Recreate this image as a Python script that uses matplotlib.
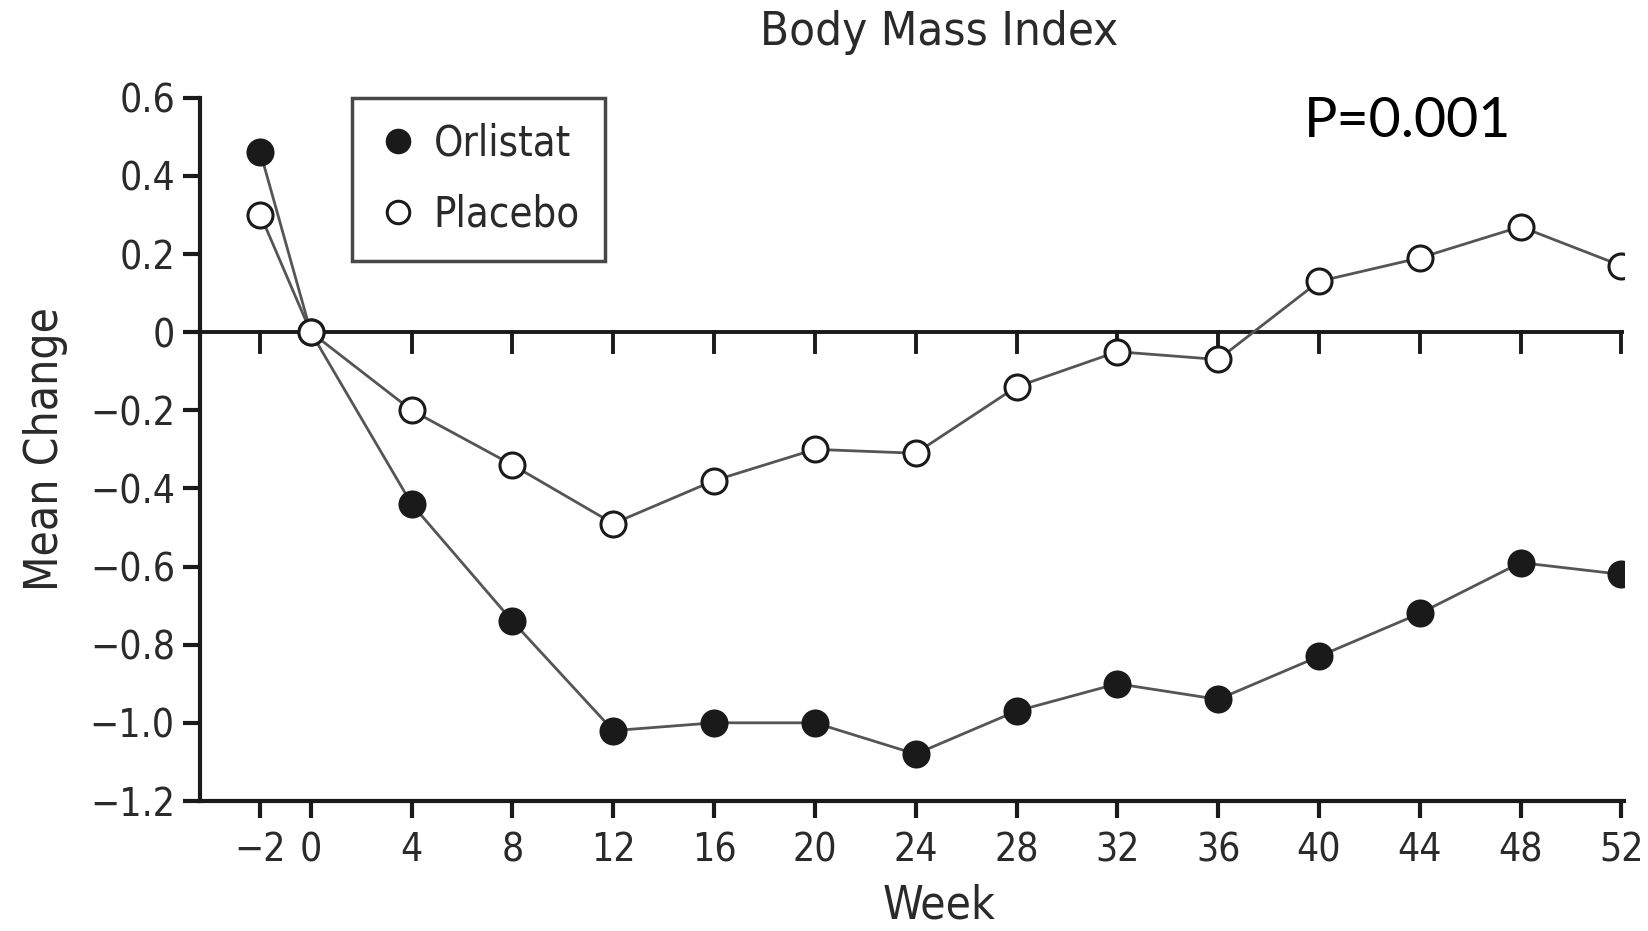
import numpy as np
import matplotlib.pyplot as plt
import matplotlib.transforms as mtransforms

# Data
weeks = [-2, 0, 4, 8, 12, 16, 20, 24, 28, 32, 36, 40, 44, 48, 52]
orlistat = [0.46, 0.0, -0.44, -0.74, -1.02, -1.00, -1.00, -1.08, -0.97, -0.90, -0.94, -0.83, -0.72, -0.59, -0.62]
placebo = [0.30, 0.0, -0.20, -0.34, -0.49, -0.38, -0.30, -0.31, -0.14, -0.05, -0.07, 0.13, 0.19, 0.27, 0.17]

y_ticks = [0.6, 0.4, 0.2, 0, -0.2, -0.4, -0.6, -0.8, -1.0, -1.2]
y_labels = ['0.6', '0.4', '0.2', '0', '\u22120.2', '\u22120.4', '\u22120.6', '\u22120.8', '\u22121.0', '\u22121.2']
x_labels = ['\u22122', '0', '4', '8', '12', '16', '20', '24', '28', '32', '36', '40', '44', '48', '52']

plt.rcParams['font.family'] = ['DejaVu Sans']
plt.rcParams['font.stretch'] = 'condensed'
text_color = '#2a2a2a'

fig = plt.figure(figsize=(16.48, 9.31), dpi=100)
ax = fig.add_axes([0.1213, 0.1397, 0.8641, 0.7553])

line_kw = dict(color='#555555', linewidth=2, markersize=18, markeredgewidth=2.2)
ax.plot(weeks, orlistat, marker='o', markerfacecolor='#1a1a1a', markeredgecolor='#1a1a1a', label='Orlistat', zorder=3, **line_kw)
ax.plot(weeks, placebo, marker='o', markerfacecolor='white', markeredgecolor='#1a1a1a', label='Placebo', zorder=4, **line_kw)

ax.set_xlim(-4.4, 52.1)
ax.set_ylim(-1.2, 0.6)

# zero line with its own downward ticks
ax.axhline(0, color='#1a1a1a', linewidth=2.8, zorder=2)
trans = mtransforms.blended_transform_factory(ax.transData, ax.transAxes)
zero_frac = 1.2 / 1.8
for w in weeks:
    if w == 0:
        continue
    ax.plot([w, w], [zero_frac, zero_frac - 0.028], color='#1a1a1a', linewidth=2.8, transform=trans, zorder=2)

ax.spines['top'].set_visible(False)
ax.spines['right'].set_visible(False)
for s in ['left', 'bottom']:
    ax.spines[s].set_linewidth(3)
    ax.spines[s].set_color('#1a1a1a')

ax.set_yticks(y_ticks)
ax.set_yticklabels(y_labels)
ax.set_xticks(weeks)
ax.set_xticklabels(x_labels)
ax.tick_params(axis='both', direction='out', length=12, width=3, color='#1a1a1a',
               labelsize=28, labelcolor=text_color)
ax.tick_params(axis='x', pad=10)
ax.tick_params(axis='y', pad=6)

ax.set_xlabel('Week', fontsize=33, color=text_color)
ax.xaxis.set_label_coords(0.519, -0.118)
ax.set_ylabel('Mean Change', fontsize=33, color=text_color, labelpad=16)
ax.set_title('Body Mass Index', fontsize=34, color=text_color, pad=38, x=0.519)

leg = ax.legend(loc='upper left', bbox_to_anchor=(0.107, 1.0),
                fontsize=30, frameon=True, fancybox=False, edgecolor='#1a1a1a',
                handlelength=1.0, handletextpad=0.35, borderpad=0.6, labelspacing=0.7,
                markerscale=0.9, borderaxespad=0)
leg.get_frame().set_linewidth(2.5)
for h in leg.legend_handles:
    h.set_linestyle('None')
for t in leg.get_texts():
    t.set_color(text_color)

ax.text(0.775, 1.003, 'P=0.001', transform=ax.transAxes, fontsize=40,
        family=['Lato', 'DejaVu Sans'], fontstretch='normal', color='black', va='top', ha='left')

fig.savefig('out.png', dpi=100)
